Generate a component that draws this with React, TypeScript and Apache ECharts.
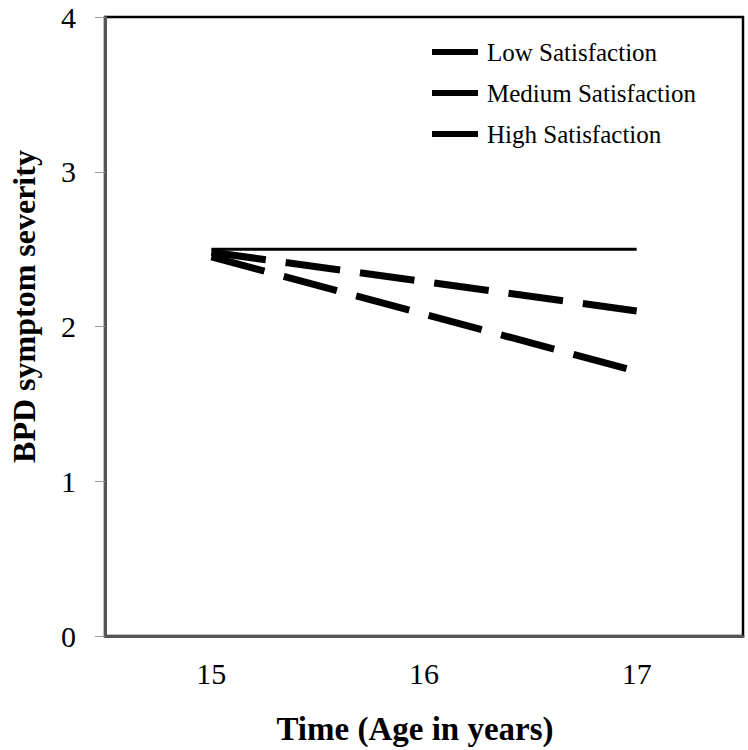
import React, { useEffect, useRef } from "react";
import * as echarts from "echarts";

const ages = ["15", "16", "17"];
const lowSatisfaction = [2.5, 2.5, 2.5];
const mediumSatisfaction = [2.48, 2.29, 2.1];
const highSatisfaction = [2.45, 2.08, 1.71];
const seriesNames = ["Low Satisfaction", "Medium Satisfaction", "High Satisfaction"];

const SERIF = "Liberation Serif";

export default function App() {
  const ref = useRef<HTMLDivElement>(null);
  useEffect(() => {
    if (!ref.current) return;
    const chart = echarts.init(ref.current, undefined, { renderer: "svg" });
    chart.setOption({
      animation: false,
      backgroundColor: "#fff",
      textStyle: { fontFamily: SERIF },
      grid: {
        left: 97,
        right: 5,
        top: 17,
        bottom: 112,
        show: true,
        borderColor: "#000",
        borderWidth: 2.5,
        backgroundColor: "transparent",
      },
      legend: {
        orient: "vertical",
        left: 432,
        top: 39,
        padding: 0,
        icon: "rect",
        itemWidth: 46,
        itemHeight: 6,
        itemGap: 15,
        data: seriesNames,
        itemStyle: { color: "#000", borderWidth: 0 },
        lineStyle: { opacity: 0 },
        textStyle: {
          fontFamily: SERIF,
          fontSize: 25,
          color: "#000",
          lineHeight: 26,
          padding: [0, 0, 0, 4],
        },
      },
      xAxis: {
        type: "category",
        data: ages,
        boundaryGap: true,
        name: "Time (Age in years)",
        nameLocation: "middle",
        nameGap: 76,
        nameTextStyle: {
          fontFamily: SERIF,
          fontSize: 33,
          fontWeight: "bold",
          color: "#000",
          padding: [0, 18, 0, 0],
        },
        axisLine: { lineStyle: { color: "#555", width: 3 } },
        axisTick: {
          alignWithLabel: true,
          inside: true,
          length: 7,
          lineStyle: { color: "#999", width: 1 },
        },
        axisLabel: {
          fontFamily: SERIF,
          fontSize: 30,
          color: "#000",
          margin: 22,
        },
        splitLine: { show: false },
      },
      yAxis: {
        type: "value",
        min: 0,
        max: 4,
        interval: 1,
        name: "BPD symptom severity",
        nameLocation: "middle",
        nameRotate: 90,
        nameGap: 65,
        nameTextStyle: {
          fontFamily: SERIF,
          fontSize: 32,
          fontWeight: "bold",
          color: "#000",
          padding: [0, 0, 0, 40],
        },
        axisLine: { show: true, lineStyle: { color: "#555", width: 3 } },
        axisTick: {
          show: true,
          inside: false,
          length: 10,
          lineStyle: { color: "#999", width: 1 },
        },
        axisLabel: {
          fontFamily: SERIF,
          fontSize: 30,
          color: "#000",
          margin: 29,
        },
        splitLine: { show: false },
      },
      series: [
        {
          name: seriesNames[0],
          type: "line",
          data: lowSatisfaction,
          symbol: "none",
          lineStyle: { color: "#000", width: 3 },
          itemStyle: { color: "#000" },
        },
        {
          name: seriesNames[1],
          type: "line",
          data: mediumSatisfaction,
          symbol: "none",
          lineStyle: { color: "#000", width: 7, type: [55, 20], cap: "butt" },
          itemStyle: { color: "#000" },
        },
        {
          name: seriesNames[2],
          type: "line",
          data: highSatisfaction,
          symbol: "none",
          lineStyle: { color: "#000", width: 7, type: [55, 20], cap: "butt" },
          itemStyle: { color: "#000" },
        },
      ],
    });
    return () => chart.dispose();
  }, []);
  return <div ref={ref} style={{ width: 748, height: 750, position: "absolute", left: 0, top: 0 }} />;
}
